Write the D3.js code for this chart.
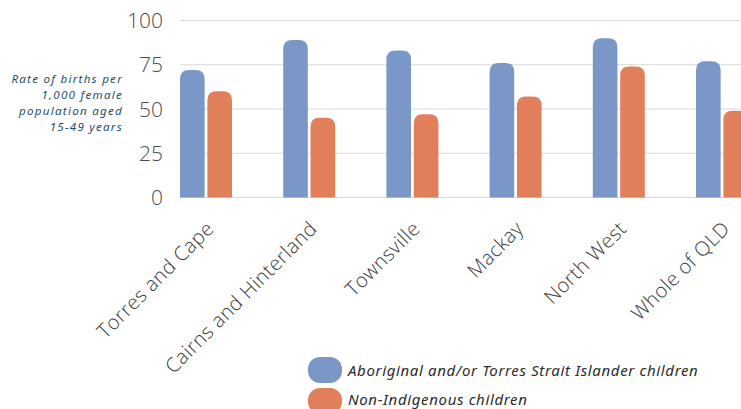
<!DOCTYPE html>
<html>
<head>
<meta charset="utf-8">
<script src="https://cdn.jsdelivr.net/npm/d3@7"></script>
<style>
  body { margin: 0; background: #fff; }
  svg { display: block; }
</style>
</head>
<body>
<script>
// Chart data
const regions = ['Torres and Cape', 'Cairns and Hinterland', 'Townsville', 'Mackay', 'North West', 'Whole of QLD'];
const seriesNames = ['Aboriginal and/or Torres Strait Islander children', 'Non-Indigenous children'];
const indigenousRates = [72, 89, 83, 76, 90, 77];
const nonIndigenousRates = [60, 45, 47, 57, 74, 49];
const yTicks = [0, 25, 50, 75, 100];
const colors = ['#7b97c8', '#e27f5b'];

const width = 741, height = 409;
const plot = { left: 180, right: 741, top: 20.5, bottom: 197.5 };

const svg = d3.select('body').append('svg')
  .attr('width', width)
  .attr('height', height);

// Scales
const x0 = d3.scaleBand()
  .domain(regions)
  .range([plot.left, plot.left + 6 * 103.2])
  .paddingInner(0)
  .paddingOuter(0);

const x1 = d3.scaleBand()
  .domain(seriesNames)
  .range([0, 52])
  .paddingInner(0.1);

const y = d3.scaleLinear()
  .domain([0, 100])
  .range([plot.bottom, plot.top]);

// Gridlines
svg.append('g')
  .selectAll('line')
  .data(yTicks)
  .enter()
  .append('line')
  .attr('x1', plot.left)
  .attr('x2', plot.right)
  .attr('y1', d => y(d))
  .attr('y2', d => y(d))
  .attr('stroke', '#d9d9d9')
  .attr('stroke-width', 1.2);

// Y axis tick labels
svg.append('g')
  .selectAll('text')
  .data(yTicks)
  .enter()
  .append('text')
  .attr('x', 163)
  .attr('y', d => y(d))
  .attr('dy', '0.36em')
  .attr('text-anchor', 'end')
  .attr('font-family', 'Open Sans')
  .attr('font-weight', 300)
  .attr('font-size', 21)
  .attr('fill', '#4a4a4a')
  .text(d => d);

// Y axis title
const titleLines = ['Rate of births per', '1,000 female', 'population aged', '15-49 years'];
svg.append('text')
  .attr('text-anchor', 'end')
  .attr('font-family', 'Noto Sans')
  .attr('font-style', 'italic')
  .attr('font-size', 11.6)
  .attr('letter-spacing', 1.25)
  .attr('fill', '#1e4f6c')
  .selectAll('tspan')
  .data(titleLines)
  .enter()
  .append('tspan')
  .attr('x', 123)
  .attr('y', (d, i) => 83 + i * 15.9)
  .text(d => d);

// Bar path with rounded top
function barPath(x, w, yTop, yBot, r) {
  r = Math.min(r, w / 2, yBot - yTop);
  return `M${x},${yBot}V${yTop + r}Q${x},${yTop} ${x + r},${yTop}H${x + w - r}Q${x + w},${yTop} ${x + w},${yTop + r}V${yBot}Z`;
}

const rows = regions.map((r, i) => ({ region: r, values: [indigenousRates[i], nonIndigenousRates[i]] }));

const groups = svg.append('g')
  .selectAll('g')
  .data(rows)
  .enter()
  .append('g')
  .attr('transform', d => `translate(${x0(d.region)},0)`);

groups.selectAll('path')
  .data(d => d.values.map((v, i) => ({ key: seriesNames[i], value: v, i })))
  .enter()
  .append('path')
  .attr('d', d => barPath(x1(d.key), x1.bandwidth(), y(d.value), y(0), 9))
  .attr('fill', d => colors[d.i]);

// X axis labels (rotated)
svg.append('g')
  .selectAll('text')
  .data(regions)
  .enter()
  .append('text')
  .attr('transform', d => `translate(${x0(d) + 35},${230}) rotate(-45)`)
  .attr('text-anchor', 'end')
  .attr('font-family', 'Open Sans')
  .attr('font-weight', 300)
  .attr('font-size', 20)
  .attr('letter-spacing', 0.4)
  .attr('fill', '#3a3a3a')
  .text(d => d);

// Legend
const legend = svg.append('g')
  .selectAll('g')
  .data(seriesNames)
  .enter()
  .append('g')
  .attr('transform', (d, i) => `translate(308,${357 + i * 31})`);

legend.append('rect')
  .attr('width', 34)
  .attr('height', 26)
  .attr('rx', 12)
  .attr('fill', (d, i) => colors[i]);

legend.append('text')
  .attr('x', 40)
  .attr('y', (d, i) => 14 - i * 2)
  .attr('dy', '0.35em')
  .attr('font-family', 'Noto Sans')
  .attr('font-style', 'italic')
  .attr('font-size', 15)
  .attr('letter-spacing', 0.65)
  .attr('fill', '#2b2b2b')
  .text(d => d);
</script>
</body>
</html>
